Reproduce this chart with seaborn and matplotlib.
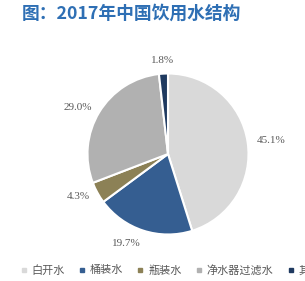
import matplotlib
matplotlib.use("Agg")
import matplotlib.pyplot as plt
import seaborn as sns
import numpy as np
from matplotlib.lines import Line2D

categories = ["白开水", "桶装水", "瓶装水", "净水器过滤水", "其他"]
values = [45.1, 19.7, 4.3, 29.0, 1.8]
colors = ["#d9d9d9", "#355e91", "#8c8156", "#b1b1b1", "#1f3a60"]
title = "图：2017年中国饮用水结构"

sns.set_style("white")
plt.rcParams['font.family'] = ['Noto Sans CJK SC', 'DejaVu Sans']

fig = plt.figure(figsize=(3.05, 2.81), dpi=100)
cx, cy, r = 168 / 305, 1 - 154 / 281, 80.5
w, h = 2 * r / 305, 2 * r / 281
ax = fig.add_axes([cx - w / 2, cy - h / 2, w, h])

labels = [f"{v:.1f}%" for v in values]
wedges, texts = ax.pie(
    values, colors=colors, startangle=90, counterclock=False,
    labels=labels, labeldistance=1.11,
    wedgeprops=dict(edgecolor="white", linewidth=1.5),
    textprops=dict(fontsize=8, color="#595959", family=["Liberation Serif"]),
)
for wdg, t in zip(wedges, texts):
    ang = np.deg2rad((wdg.theta1 + wdg.theta2) / 2)
    if abs(np.cos(ang)) < 0.2:
        t.set_ha("center")
    if np.sin(ang) > 0.8:
        t.set_va("bottom")
    elif np.sin(ang) < -0.8:
        t.set_va("top")

ax.set_xlim(-1, 1)
ax.set_ylim(-1, 1)
ax.set_aspect("equal")
ax.axis("off")

fig.text(22 / 305, 1 - 14 / 281, title, fontsize=12.8, fontweight="bold",
         color="#2e6fb4", va="center", ha="left")

handles = [Line2D([0], [0], marker="s", linestyle="", markersize=3.2,
                  markerfacecolor=c, markeredgecolor=c) for c in colors]
leg = fig.legend(handles, categories, loc="center left", ncol=5,
                 bbox_to_anchor=(20.4 / 305, 1 - 270 / 281), frameon=False,
                 fontsize=8, handlelength=0.6, handletextpad=0.4,
                 columnspacing=1.25, borderaxespad=0, borderpad=0)
for t in leg.get_texts():
    t.set_color("#595959")

fig.savefig("out.png", dpi=100)
